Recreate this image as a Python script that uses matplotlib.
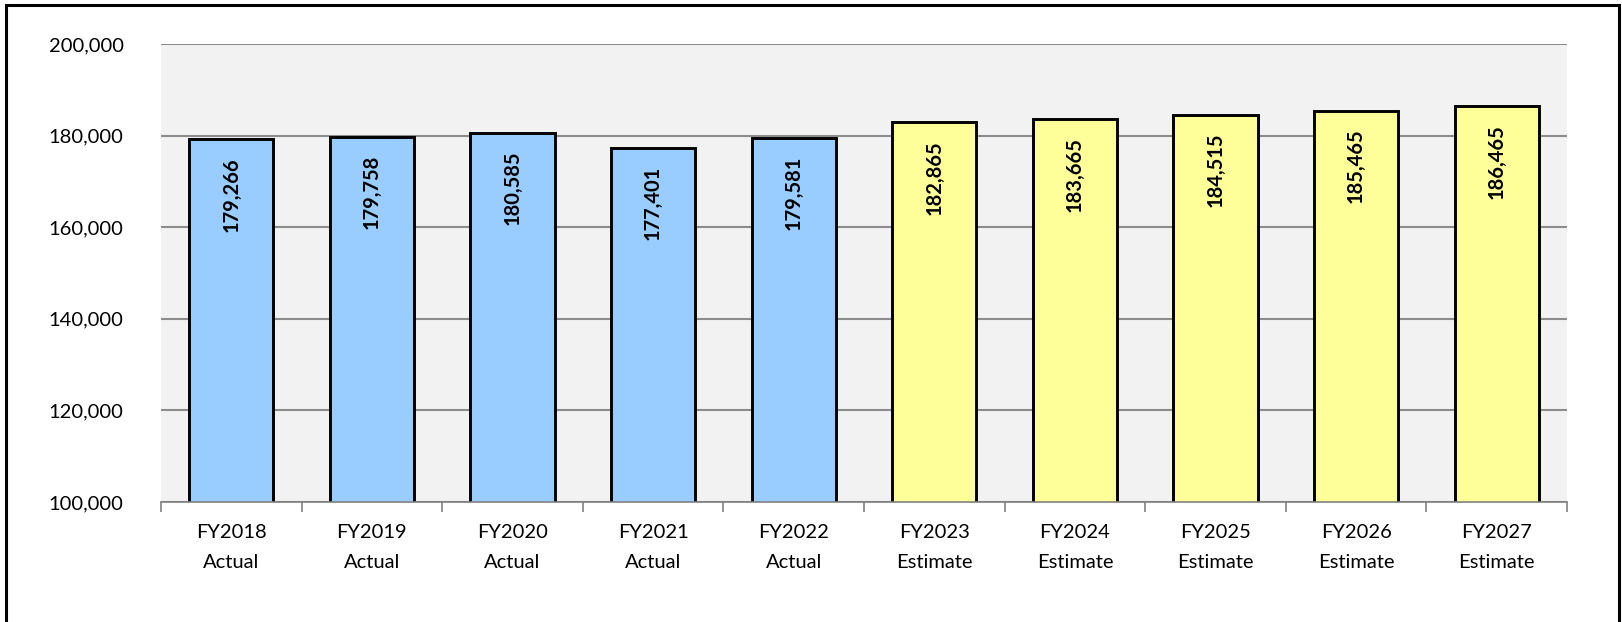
import matplotlib
matplotlib.use("Agg")
import matplotlib.pyplot as plt
from matplotlib.patches import Rectangle
from matplotlib.ticker import FuncFormatter, FixedLocator

years = ["FY2018", "FY2019", "FY2020", "FY2021", "FY2022",
         "FY2023", "FY2024", "FY2025", "FY2026", "FY2027"]
kinds = ["Actual"] * 5 + ["Estimate"] * 5
values = [179266, 179758, 180585, 177401, 179581,
          182865, 183665, 184515, 185465, 186465]
kind_colors = {"Actual": "#99CCFF", "Estimate": "#FFFF99"}

plt.rcParams["font.family"] = ["Lato", "DejaVu Sans"]

W, H = 1622, 622
fig = plt.figure(figsize=(W / 100, H / 100), dpi=100)
fig.patch.set_facecolor("white")

# outer frame
fig.add_artist(Rectangle((6 / W, -0.05), (1619 - 6) / W, 1.05 - 5 / H,
                         transform=fig.transFigure, fill=False,
                         edgecolor="black", linewidth=2.2, zorder=0))

ax = fig.add_axes([161 / W, 1 - 502 / H, (1567 - 161) / W, (502 - 44) / H])
ax.set_facecolor("#F2F2F2")

x = list(range(len(values)))
colors = [kind_colors[k] for k in kinds]
ax.bar(x, values, width=0.6, color=colors, edgecolor="black",
       linewidth=2.1, zorder=3, bottom=0)

ax.set_ylim(100000, 200000)
ax.set_xlim(-0.5, len(values) - 0.5)
ax.yaxis.set_major_locator(FixedLocator(range(100000, 200001, 20000)))
ax.yaxis.set_major_formatter(FuncFormatter(lambda v, p: f"{int(v):,}"))
ax.grid(axis="y", color="#8C8C8C", linewidth=1.5, zorder=1)

for s in ["top", "right", "left"]:
    ax.spines[s].set_visible(False)
ax.spines["bottom"].set_color("#808080")
ax.spines["bottom"].set_linewidth(1.2)
ax.spines["bottom"].set_zorder(4)

ax.tick_params(axis="y", length=0, pad=27, labelsize=14.5, colors="black")
ax.set_xticks(x)
ax.set_xticklabels([f"{y}\n{k}" for y, k in zip(years, kinds)],
                   fontsize=14.5, linespacing=1.9)
ax.tick_params(axis="x", which="major", length=0, pad=16)
ax.set_xticks([i - 0.5 for i in range(len(values) + 1)], minor=True)
ax.tick_params(axis="x", which="minor", length=7, width=1.2,
               color="#808080", direction="out")

for xi, v in zip(x, values):
    ax.annotate(f"{v:,}", xy=(xi, v), xytext=(0, -13),
                textcoords="offset points", rotation=90,
                ha="center", va="top", fontsize=14.5, fontweight="bold",
                zorder=5)

fig.savefig("out.png", dpi=100)
